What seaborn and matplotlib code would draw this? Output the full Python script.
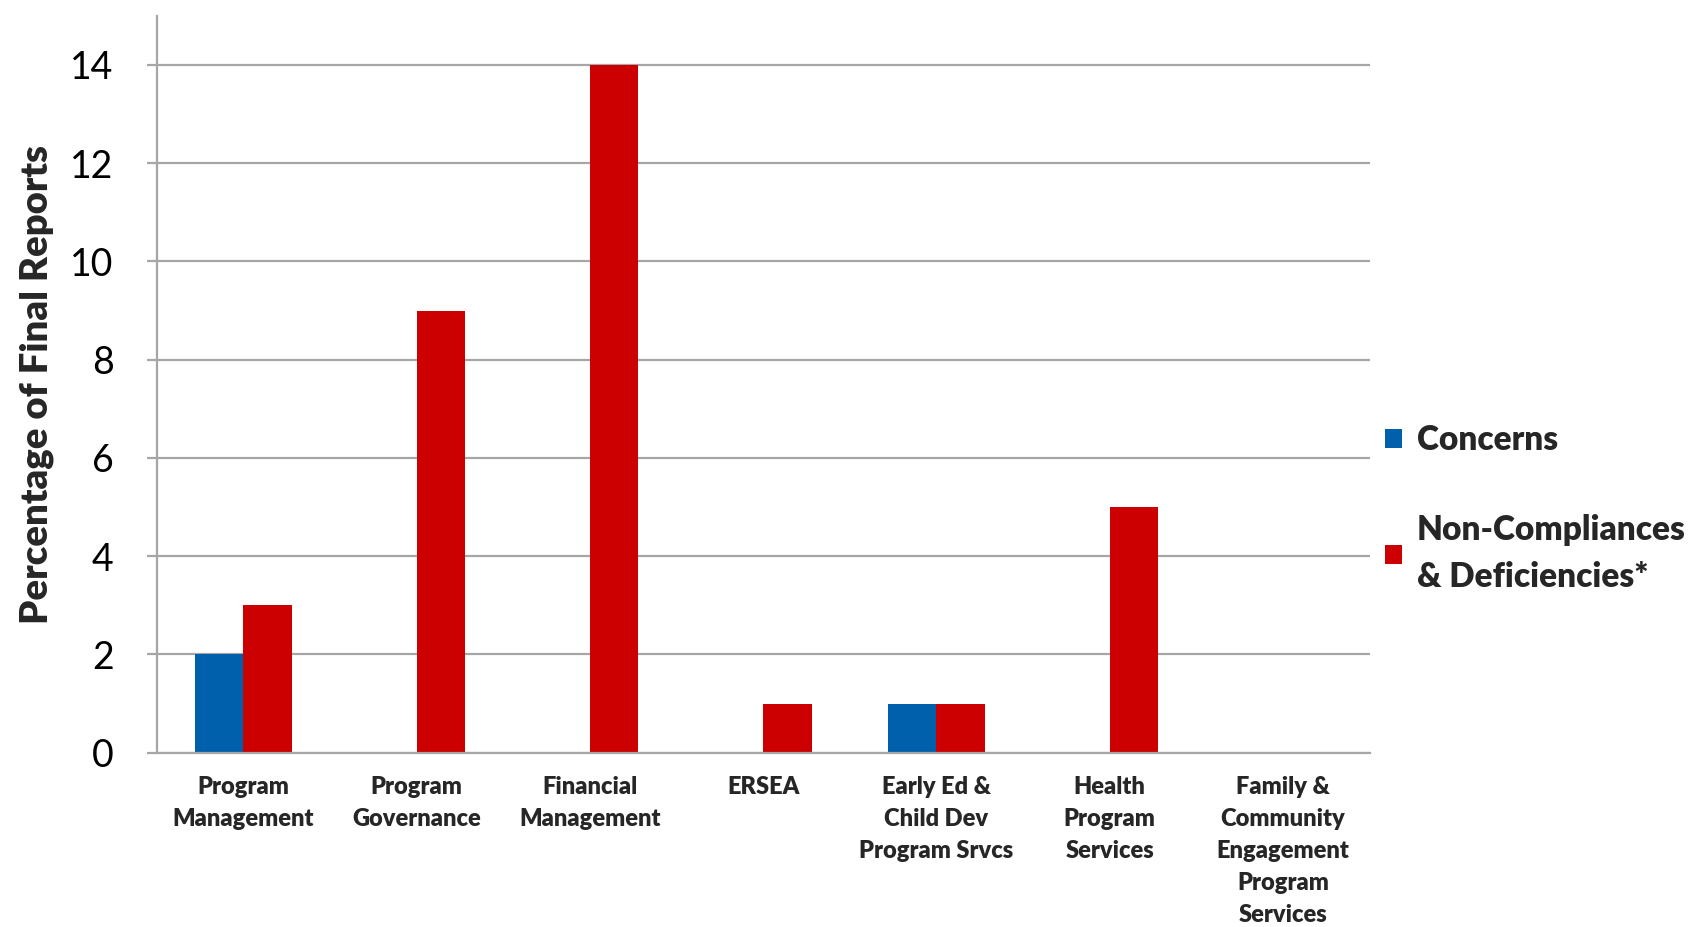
import pandas as pd
import matplotlib
matplotlib.use("Agg")
import matplotlib.pyplot as plt
import seaborn as sns

# Chart data
categories = [
    "Program\nManagement",
    "Program\nGovernance",
    "Financial\nManagement",
    "ERSEA",
    "Early Ed &\nChild Dev\nProgram Srvcs",
    "Health\nProgram\nServices",
    "Family &\nCommunity\nEngagement\nProgram\nServices",
]
concerns = [2, 0, 0, 0, 1, 0, 0]
non_compliances = [3, 9, 14, 1, 1, 5, 0]
series_names = ["Concerns", "Non-Compliances\n& Deficiencies*"]
series_colors = ["#0060AC", "#CC0000"]
y_ticks = [0, 2, 4, 6, 8, 10, 12, 14]

# Long-format table for seaborn
df = pd.DataFrame({
    "category": categories * 2,
    "series": [series_names[0]] * len(categories) + [series_names[1]] * len(categories),
    "value": concerns + non_compliances,
})

sns.set_style("white")
plt.rcParams["font.family"] = ["Lato", "DejaVu Sans"]

fig = plt.figure(figsize=(16.93, 9.27), dpi=100)
ax = fig.add_axes([0.0925, 0.188, 0.7165, 0.795])

sns.barplot(data=df, x="category", y="value", hue="series", order=categories,
            hue_order=series_names, palette=series_colors, saturation=1,
            width=0.56, gap=0, linewidth=0, errorbar=None, ax=ax)

grid_col = "#A6A6A6"
ax.set_ylim(0, 15)
ax.set_yticks(y_ticks)
ax.yaxis.grid(True, color=grid_col, linewidth=1.6)
ax.set_axisbelow(True)
ax.set_xlim(-0.5, len(categories) - 0.5)

for side in ["top", "right"]:
    ax.spines[side].set_visible(False)
for side in ["left", "bottom"]:
    ax.spines[side].set_color(grid_col)
    ax.spines[side].set_linewidth(1.6)

ax.tick_params(axis="y", length=7, width=1.6, color=grid_col, pad=24,
               labelsize=27, labelcolor="black", left=True)
ax.tick_params(axis="x", length=0, pad=17)
ax.set_xticks(range(len(categories)))
ax.set_xticklabels(categories, fontsize=17, fontweight="heavy",
                   linespacing=1.55, ha="center", multialignment="center")

ax.set_xlabel("")
ax.set_ylabel("Percentage of Final Reports", fontsize=27.5, fontweight="heavy",
              labelpad=12)

# Legend to the right of the plot
handles, labels = ax.get_legend_handles_labels()
leg = ax.legend(handles, labels, loc="upper left", bbox_to_anchor=(0.8005, 0.575),
                bbox_transform=fig.transFigure, frameon=False,
                prop={"weight": "heavy", "size": 24}, handlelength=0.5,
                handleheight=0.5, handletextpad=0.45, labelspacing=1.75)
for t in leg.get_texts():
    t.set_linespacing(1.55)

plt.savefig("out.png", dpi=100)
plt.close()
